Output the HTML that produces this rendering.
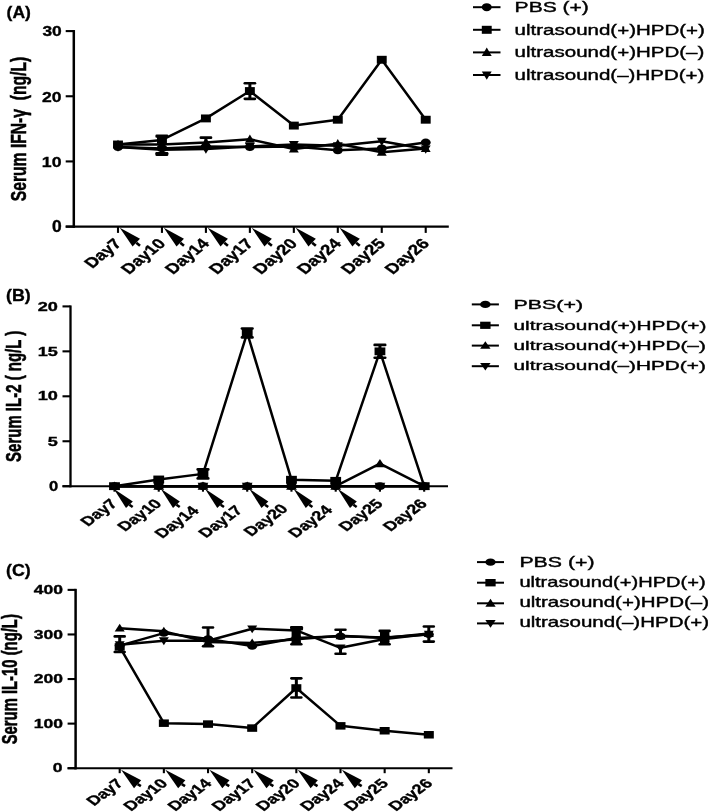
<!DOCTYPE html>
<html><head><meta charset="utf-8"><style>
html,body{margin:0;padding:0;background:#fff;}
svg{display:block;will-change:transform;}
</style></head><body>
<svg width="709" height="812" viewBox="0 0 709 812">
<rect width="709" height="812" fill="#fff"/>
<line x1="73.80" y1="30.04" x2="73.80" y2="227.85" stroke="#000" stroke-width="2.5"/>
<line x1="65.70" y1="226.60" x2="73.80" y2="226.60" stroke="#000" stroke-width="2.1"/>
<line x1="65.70" y1="161.43" x2="73.80" y2="161.43" stroke="#000" stroke-width="2.1"/>
<line x1="65.70" y1="96.26" x2="73.80" y2="96.26" stroke="#000" stroke-width="2.1"/>
<line x1="65.70" y1="31.09" x2="73.80" y2="31.09" stroke="#000" stroke-width="2.1"/>
<line x1="65.70" y1="226.60" x2="448.80" y2="226.60" stroke="#000" stroke-width="2.2"/>
<line x1="118.00" y1="226.60" x2="118.00" y2="232.90" stroke="#000" stroke-width="2.1"/>
<line x1="161.96" y1="226.60" x2="161.96" y2="232.90" stroke="#000" stroke-width="2.1"/>
<line x1="205.92" y1="226.60" x2="205.92" y2="232.90" stroke="#000" stroke-width="2.1"/>
<line x1="249.88" y1="226.60" x2="249.88" y2="232.90" stroke="#000" stroke-width="2.1"/>
<line x1="293.84" y1="226.60" x2="293.84" y2="232.90" stroke="#000" stroke-width="2.1"/>
<line x1="337.80" y1="226.60" x2="337.80" y2="232.90" stroke="#000" stroke-width="2.1"/>
<line x1="381.76" y1="226.60" x2="381.76" y2="232.90" stroke="#000" stroke-width="2.1"/>
<line x1="425.72" y1="226.60" x2="425.72" y2="232.90" stroke="#000" stroke-width="2.1"/>
<polygon points="119.80,227.80 140.00,238.80 132.60,246.50" fill="#000"/>
<line x1="136.30" y1="242.65" x2="140.00" y2="245.80" stroke="#000" stroke-width="2.6"/>
<polygon points="163.76,227.80 183.96,238.80 176.56,246.50" fill="#000"/>
<line x1="180.26" y1="242.65" x2="183.96" y2="245.80" stroke="#000" stroke-width="2.6"/>
<polygon points="207.72,227.80 227.92,238.80 220.52,246.50" fill="#000"/>
<line x1="224.22" y1="242.65" x2="227.92" y2="245.80" stroke="#000" stroke-width="2.6"/>
<polygon points="251.68,227.80 271.88,238.80 264.48,246.50" fill="#000"/>
<line x1="268.18" y1="242.65" x2="271.88" y2="245.80" stroke="#000" stroke-width="2.6"/>
<polygon points="295.64,227.80 315.84,238.80 308.44,246.50" fill="#000"/>
<line x1="312.14" y1="242.65" x2="315.84" y2="245.80" stroke="#000" stroke-width="2.6"/>
<polygon points="339.60,227.80 359.80,238.80 352.40,246.50" fill="#000"/>
<line x1="356.10" y1="242.65" x2="359.80" y2="245.80" stroke="#000" stroke-width="2.6"/>
<polyline points="118.00,147.09 161.96,148.40 205.92,146.44 249.88,147.09 293.84,146.44 337.80,150.35 381.76,148.40 425.72,142.53" fill="none" stroke="#000" stroke-width="2.5" stroke-linejoin="round"/>
<polyline points="118.00,144.49 161.96,139.92 205.92,118.42 249.88,91.05 293.84,125.59 337.80,119.72 381.76,59.76 425.72,119.72" fill="none" stroke="#000" stroke-width="2.5" stroke-linejoin="round"/>
<polyline points="118.00,144.49 161.96,144.49 205.92,142.53 249.88,139.27 293.84,149.05 337.80,143.83 381.76,152.31 425.72,148.40" fill="none" stroke="#000" stroke-width="2.5" stroke-linejoin="round"/>
<polyline points="118.00,147.09 161.96,149.70 205.92,149.05 249.88,146.44 293.84,144.49 337.80,145.79 381.76,141.23 425.72,149.05" fill="none" stroke="#000" stroke-width="2.5" stroke-linejoin="round"/>
<ellipse cx="118.00" cy="147.09" rx="4.95" ry="3.95" fill="#000"/>
<ellipse cx="161.96" cy="148.40" rx="4.95" ry="3.95" fill="#000"/>
<ellipse cx="205.92" cy="146.44" rx="4.95" ry="3.95" fill="#000"/>
<ellipse cx="249.88" cy="147.09" rx="4.95" ry="3.95" fill="#000"/>
<ellipse cx="293.84" cy="146.44" rx="4.95" ry="3.95" fill="#000"/>
<ellipse cx="337.80" cy="150.35" rx="4.95" ry="3.95" fill="#000"/>
<ellipse cx="381.76" cy="148.40" rx="4.95" ry="3.95" fill="#000"/>
<ellipse cx="425.72" cy="142.53" rx="4.95" ry="3.95" fill="#000"/>
<rect x="113.05" y="140.54" width="9.90" height="7.90" fill="#000"/>
<rect x="157.01" y="135.97" width="9.90" height="7.90" fill="#000"/>
<rect x="200.97" y="114.47" width="9.90" height="7.90" fill="#000"/>
<line x1="249.88" y1="83.23" x2="249.88" y2="91.05" stroke="#000" stroke-width="3.0"/>
<line x1="244.78" y1="83.23" x2="254.98" y2="83.23" stroke="#000" stroke-width="2.6" stroke-linecap="round"/>
<line x1="249.88" y1="91.05" x2="249.88" y2="98.87" stroke="#000" stroke-width="3.0"/>
<line x1="244.78" y1="98.87" x2="254.98" y2="98.87" stroke="#000" stroke-width="2.6" stroke-linecap="round"/>
<rect x="244.93" y="87.10" width="9.90" height="7.90" fill="#000"/>
<rect x="288.89" y="121.64" width="9.90" height="7.90" fill="#000"/>
<rect x="332.85" y="115.77" width="9.90" height="7.90" fill="#000"/>
<rect x="376.81" y="55.81" width="9.90" height="7.90" fill="#000"/>
<rect x="420.77" y="115.77" width="9.90" height="7.90" fill="#000"/>
<polygon points="118.00,139.75 122.95,148.04 113.05,148.04" fill="#000"/>
<line x1="161.96" y1="144.49" x2="161.96" y2="153.61" stroke="#000" stroke-width="3.0"/>
<line x1="156.86" y1="153.61" x2="167.06" y2="153.61" stroke="#000" stroke-width="2.6" stroke-linecap="round"/>
<polygon points="161.96,139.75 166.91,148.04 157.01,148.04" fill="#000"/>
<polygon points="205.92,137.79 210.87,146.09 200.97,146.09" fill="#000"/>
<polygon points="249.88,134.53 254.83,142.83 244.93,142.83" fill="#000"/>
<polygon points="293.84,144.31 298.79,152.60 288.89,152.60" fill="#000"/>
<polygon points="337.80,139.09 342.75,147.39 332.85,147.39" fill="#000"/>
<polygon points="381.76,147.57 386.71,155.86 376.81,155.86" fill="#000"/>
<polygon points="425.72,143.66 430.67,151.95 420.77,151.95" fill="#000"/>
<polygon points="118.00,151.83 122.95,143.54 113.05,143.54" fill="#000"/>
<polygon points="161.96,154.44 166.91,146.14 157.01,146.14" fill="#000"/>
<line x1="205.92" y1="137.64" x2="205.92" y2="149.05" stroke="#000" stroke-width="3.0"/>
<line x1="200.82" y1="137.64" x2="211.02" y2="137.64" stroke="#000" stroke-width="2.6" stroke-linecap="round"/>
<polygon points="205.92,153.79 210.87,145.49 200.97,145.49" fill="#000"/>
<polygon points="249.88,151.18 254.83,142.89 244.93,142.89" fill="#000"/>
<polygon points="293.84,149.23 298.79,140.93 288.89,140.93" fill="#000"/>
<polygon points="337.80,150.53 342.75,142.23 332.85,142.23" fill="#000"/>
<polygon points="381.76,145.97 386.71,137.67 376.81,137.67" fill="#000"/>
<polygon points="425.72,153.79 430.67,145.49 420.77,145.49" fill="#000"/>
<rect x="155.4" y="151.9" width="12.9" height="4.0" rx="1.2" fill="#000"/>
<rect x="155.4" y="134.5" width="12.9" height="3.2" rx="1.2" fill="#000"/>
<line x1="70.50" y1="305.45" x2="70.50" y2="487.35" stroke="#000" stroke-width="2.3"/>
<line x1="62.50" y1="486.20" x2="70.50" y2="486.20" stroke="#000" stroke-width="2.1"/>
<line x1="62.50" y1="441.25" x2="70.50" y2="441.25" stroke="#000" stroke-width="2.1"/>
<line x1="62.50" y1="396.30" x2="70.50" y2="396.30" stroke="#000" stroke-width="2.1"/>
<line x1="62.50" y1="351.35" x2="70.50" y2="351.35" stroke="#000" stroke-width="2.1"/>
<line x1="62.50" y1="306.40" x2="70.50" y2="306.40" stroke="#000" stroke-width="2.1"/>
<line x1="62.50" y1="486.20" x2="448.00" y2="486.20" stroke="#000" stroke-width="2.0"/>
<line x1="114.50" y1="486.20" x2="114.50" y2="491.70" stroke="#000" stroke-width="2.1"/>
<line x1="158.74" y1="486.20" x2="158.74" y2="491.70" stroke="#000" stroke-width="2.1"/>
<line x1="202.98" y1="486.20" x2="202.98" y2="491.70" stroke="#000" stroke-width="2.1"/>
<line x1="247.22" y1="486.20" x2="247.22" y2="491.70" stroke="#000" stroke-width="2.1"/>
<line x1="291.46" y1="486.20" x2="291.46" y2="491.70" stroke="#000" stroke-width="2.1"/>
<line x1="335.70" y1="486.20" x2="335.70" y2="491.70" stroke="#000" stroke-width="2.1"/>
<line x1="379.94" y1="486.20" x2="379.94" y2="491.70" stroke="#000" stroke-width="2.1"/>
<line x1="424.18" y1="486.20" x2="424.18" y2="491.70" stroke="#000" stroke-width="2.1"/>
<polygon points="113.70,488.70 132.80,501.50 126.00,508.00" fill="#000"/>
<line x1="129.40" y1="504.75" x2="132.70" y2="507.00" stroke="#000" stroke-width="2.6"/>
<polygon points="160.74,488.70 179.84,501.50 173.04,508.00" fill="#000"/>
<line x1="176.44" y1="504.75" x2="179.74" y2="507.00" stroke="#000" stroke-width="2.6"/>
<polygon points="204.98,488.70 224.08,501.50 217.28,508.00" fill="#000"/>
<line x1="220.68" y1="504.75" x2="223.98" y2="507.00" stroke="#000" stroke-width="2.6"/>
<polygon points="249.22,488.70 268.32,501.50 261.52,508.00" fill="#000"/>
<line x1="264.92" y1="504.75" x2="268.22" y2="507.00" stroke="#000" stroke-width="2.6"/>
<polygon points="293.46,488.70 312.56,501.50 305.76,508.00" fill="#000"/>
<line x1="309.16" y1="504.75" x2="312.46" y2="507.00" stroke="#000" stroke-width="2.6"/>
<polygon points="337.70,488.70 356.80,501.50 350.00,508.00" fill="#000"/>
<line x1="353.40" y1="504.75" x2="356.70" y2="507.00" stroke="#000" stroke-width="2.6"/>
<polyline points="114.50,486.20 158.74,486.20 202.98,486.20 247.22,486.20 291.46,486.20 335.70,486.20 379.94,486.20 424.18,486.20" fill="none" stroke="#000" stroke-width="2.5" stroke-linejoin="round"/>
<polyline points="114.50,486.20 158.74,479.46 202.98,473.88 247.22,332.92 291.46,479.73 335.70,480.81 379.94,351.35 424.18,486.20" fill="none" stroke="#000" stroke-width="2.5" stroke-linejoin="round"/>
<polyline points="114.50,486.20 158.74,486.20 202.98,486.20 247.22,486.20 291.46,486.20 335.70,486.20 379.94,463.72 424.18,486.20" fill="none" stroke="#000" stroke-width="2.5" stroke-linejoin="round"/>
<polyline points="114.50,486.20 158.74,486.20 202.98,486.20 247.22,486.20 291.46,486.20 335.70,486.20 379.94,486.20 424.18,486.20" fill="none" stroke="#000" stroke-width="2.5" stroke-linejoin="round"/>
<ellipse cx="114.50" cy="486.20" rx="5.40" ry="3.90" fill="#000"/>
<ellipse cx="158.74" cy="486.20" rx="5.40" ry="3.90" fill="#000"/>
<ellipse cx="202.98" cy="486.20" rx="5.40" ry="3.90" fill="#000"/>
<ellipse cx="247.22" cy="486.20" rx="5.40" ry="3.90" fill="#000"/>
<ellipse cx="291.46" cy="486.20" rx="5.40" ry="3.90" fill="#000"/>
<ellipse cx="335.70" cy="486.20" rx="5.40" ry="3.90" fill="#000"/>
<ellipse cx="379.94" cy="486.20" rx="5.40" ry="3.90" fill="#000"/>
<ellipse cx="424.18" cy="486.20" rx="5.40" ry="3.90" fill="#000"/>
<rect x="109.10" y="482.30" width="10.80" height="7.80" fill="#000"/>
<rect x="153.34" y="475.56" width="10.80" height="7.80" fill="#000"/>
<line x1="202.98" y1="469.39" x2="202.98" y2="473.88" stroke="#000" stroke-width="3.0"/>
<line x1="197.68" y1="469.39" x2="208.28" y2="469.39" stroke="#000" stroke-width="2.6" stroke-linecap="round"/>
<line x1="202.98" y1="473.88" x2="202.98" y2="478.38" stroke="#000" stroke-width="3.0"/>
<line x1="197.68" y1="478.38" x2="208.28" y2="478.38" stroke="#000" stroke-width="2.6" stroke-linecap="round"/>
<rect x="197.58" y="469.98" width="10.80" height="7.80" fill="#000"/>
<line x1="247.22" y1="328.43" x2="247.22" y2="332.92" stroke="#000" stroke-width="3.0"/>
<line x1="241.92" y1="328.43" x2="252.52" y2="328.43" stroke="#000" stroke-width="2.6" stroke-linecap="round"/>
<line x1="247.22" y1="332.92" x2="247.22" y2="337.42" stroke="#000" stroke-width="3.0"/>
<line x1="241.92" y1="337.42" x2="252.52" y2="337.42" stroke="#000" stroke-width="2.6" stroke-linecap="round"/>
<rect x="241.82" y="329.02" width="10.80" height="7.80" fill="#000"/>
<rect x="286.06" y="475.83" width="10.80" height="7.80" fill="#000"/>
<rect x="330.30" y="476.91" width="10.80" height="7.80" fill="#000"/>
<line x1="379.94" y1="344.88" x2="379.94" y2="351.35" stroke="#000" stroke-width="3.0"/>
<line x1="374.64" y1="344.88" x2="385.24" y2="344.88" stroke="#000" stroke-width="2.6" stroke-linecap="round"/>
<line x1="379.94" y1="351.35" x2="379.94" y2="357.82" stroke="#000" stroke-width="3.0"/>
<line x1="374.64" y1="357.82" x2="385.24" y2="357.82" stroke="#000" stroke-width="2.6" stroke-linecap="round"/>
<rect x="374.54" y="347.45" width="10.80" height="7.80" fill="#000"/>
<rect x="418.78" y="482.30" width="10.80" height="7.80" fill="#000"/>
<polygon points="114.50,481.52 119.90,489.71 109.10,489.71" fill="#000"/>
<polygon points="158.74,481.52 164.14,489.71 153.34,489.71" fill="#000"/>
<polygon points="202.98,481.52 208.38,489.71 197.58,489.71" fill="#000"/>
<polygon points="247.22,481.52 252.62,489.71 241.82,489.71" fill="#000"/>
<polygon points="291.46,481.52 296.86,489.71 286.06,489.71" fill="#000"/>
<polygon points="335.70,481.52 341.10,489.71 330.30,489.71" fill="#000"/>
<polygon points="379.94,459.04 385.34,467.23 374.54,467.23" fill="#000"/>
<polygon points="424.18,481.52 429.58,489.71 418.78,489.71" fill="#000"/>
<polygon points="114.50,490.88 119.90,482.69 109.10,482.69" fill="#000"/>
<polygon points="158.74,490.88 164.14,482.69 153.34,482.69" fill="#000"/>
<polygon points="202.98,490.88 208.38,482.69 197.58,482.69" fill="#000"/>
<polygon points="247.22,490.88 252.62,482.69 241.82,482.69" fill="#000"/>
<polygon points="291.46,490.88 296.86,482.69 286.06,482.69" fill="#000"/>
<polygon points="335.70,490.88 341.10,482.69 330.30,482.69" fill="#000"/>
<polygon points="379.94,490.88 385.34,482.69 374.54,482.69" fill="#000"/>
<polygon points="424.18,490.88 429.58,482.69 418.78,482.69" fill="#000"/>
<line x1="75.60" y1="588.83" x2="75.60" y2="769.45" stroke="#000" stroke-width="2.5"/>
<line x1="67.60" y1="768.20" x2="75.60" y2="768.20" stroke="#000" stroke-width="2.1"/>
<line x1="67.60" y1="723.62" x2="75.60" y2="723.62" stroke="#000" stroke-width="2.1"/>
<line x1="67.60" y1="679.04" x2="75.60" y2="679.04" stroke="#000" stroke-width="2.1"/>
<line x1="67.60" y1="634.46" x2="75.60" y2="634.46" stroke="#000" stroke-width="2.1"/>
<line x1="67.60" y1="589.88" x2="75.60" y2="589.88" stroke="#000" stroke-width="2.1"/>
<line x1="67.60" y1="768.20" x2="452.50" y2="768.20" stroke="#000" stroke-width="2.1"/>
<line x1="119.70" y1="768.20" x2="119.70" y2="773.20" stroke="#000" stroke-width="2.1"/>
<line x1="163.86" y1="768.20" x2="163.86" y2="773.20" stroke="#000" stroke-width="2.1"/>
<line x1="208.02" y1="768.20" x2="208.02" y2="773.20" stroke="#000" stroke-width="2.1"/>
<line x1="252.18" y1="768.20" x2="252.18" y2="773.20" stroke="#000" stroke-width="2.1"/>
<line x1="296.34" y1="768.20" x2="296.34" y2="773.20" stroke="#000" stroke-width="2.1"/>
<line x1="340.50" y1="768.20" x2="340.50" y2="773.20" stroke="#000" stroke-width="2.1"/>
<line x1="384.66" y1="768.20" x2="384.66" y2="773.20" stroke="#000" stroke-width="2.1"/>
<line x1="428.82" y1="768.20" x2="428.82" y2="773.20" stroke="#000" stroke-width="2.1"/>
<polygon points="121.10,769.80 141.20,780.20 134.00,788.20" fill="#000"/>
<line x1="137.60" y1="784.20" x2="140.90" y2="786.20" stroke="#000" stroke-width="2.6"/>
<polygon points="165.26,769.80 185.36,780.20 178.16,788.20" fill="#000"/>
<line x1="181.76" y1="784.20" x2="185.06" y2="786.20" stroke="#000" stroke-width="2.6"/>
<polygon points="209.42,769.80 229.52,780.20 222.32,788.20" fill="#000"/>
<line x1="225.92" y1="784.20" x2="229.22" y2="786.20" stroke="#000" stroke-width="2.6"/>
<polygon points="253.58,769.80 273.68,780.20 266.48,788.20" fill="#000"/>
<line x1="270.08" y1="784.20" x2="273.38" y2="786.20" stroke="#000" stroke-width="2.6"/>
<polygon points="297.74,769.80 317.84,780.20 310.64,788.20" fill="#000"/>
<line x1="314.24" y1="784.20" x2="317.54" y2="786.20" stroke="#000" stroke-width="2.6"/>
<polygon points="341.90,769.80 362.00,780.20 354.80,788.20" fill="#000"/>
<line x1="358.40" y1="784.20" x2="361.70" y2="786.20" stroke="#000" stroke-width="2.6"/>
<polyline points="119.70,645.61 163.86,633.12 208.02,638.92 252.18,646.05 296.34,638.03 340.50,636.24 384.66,637.58 428.82,634.46" fill="none" stroke="#000" stroke-width="2.5" stroke-linejoin="round"/>
<polyline points="119.70,646.94 163.86,723.17 208.02,724.07 252.18,728.08 296.34,687.96 340.50,725.85 384.66,730.75 428.82,734.77" fill="none" stroke="#000" stroke-width="2.5" stroke-linejoin="round"/>
<polyline points="119.70,628.22 163.86,631.34 208.02,642.04 252.18,642.93 296.34,639.36 340.50,635.80 384.66,638.03 428.82,633.57" fill="none" stroke="#000" stroke-width="2.5" stroke-linejoin="round"/>
<polyline points="119.70,644.71 163.86,640.70 208.02,640.70 252.18,628.80 296.34,630.45 340.50,647.83 384.66,638.92 428.82,634.01" fill="none" stroke="#000" stroke-width="2.5" stroke-linejoin="round"/>
<ellipse cx="119.70" cy="645.61" rx="5.00" ry="3.75" fill="#000"/>
<ellipse cx="163.86" cy="633.12" rx="5.00" ry="3.75" fill="#000"/>
<ellipse cx="208.02" cy="638.92" rx="5.00" ry="3.75" fill="#000"/>
<ellipse cx="252.18" cy="646.05" rx="5.00" ry="3.75" fill="#000"/>
<line x1="296.34" y1="627.33" x2="296.34" y2="638.03" stroke="#000" stroke-width="3.0"/>
<line x1="291.39" y1="627.33" x2="301.29" y2="627.33" stroke="#000" stroke-width="2.6" stroke-linecap="round"/>
<line x1="296.34" y1="638.03" x2="296.34" y2="644.27" stroke="#000" stroke-width="3.0"/>
<line x1="291.39" y1="644.27" x2="301.29" y2="644.27" stroke="#000" stroke-width="2.6" stroke-linecap="round"/>
<ellipse cx="296.34" cy="638.03" rx="5.00" ry="3.75" fill="#000"/>
<line x1="340.50" y1="629.69" x2="340.50" y2="636.24" stroke="#000" stroke-width="3.0"/>
<line x1="335.55" y1="629.69" x2="345.45" y2="629.69" stroke="#000" stroke-width="2.6" stroke-linecap="round"/>
<ellipse cx="340.50" cy="636.24" rx="5.00" ry="3.75" fill="#000"/>
<line x1="384.66" y1="630.89" x2="384.66" y2="637.58" stroke="#000" stroke-width="3.0"/>
<line x1="379.71" y1="630.89" x2="389.61" y2="630.89" stroke="#000" stroke-width="2.6" stroke-linecap="round"/>
<line x1="384.66" y1="637.58" x2="384.66" y2="644.27" stroke="#000" stroke-width="3.0"/>
<line x1="379.71" y1="644.27" x2="389.61" y2="644.27" stroke="#000" stroke-width="2.6" stroke-linecap="round"/>
<ellipse cx="384.66" cy="637.58" rx="5.00" ry="3.75" fill="#000"/>
<line x1="428.82" y1="626.44" x2="428.82" y2="634.46" stroke="#000" stroke-width="3.0"/>
<line x1="423.87" y1="626.44" x2="433.77" y2="626.44" stroke="#000" stroke-width="2.6" stroke-linecap="round"/>
<line x1="428.82" y1="634.46" x2="428.82" y2="641.59" stroke="#000" stroke-width="3.0"/>
<line x1="423.87" y1="641.59" x2="433.77" y2="641.59" stroke="#000" stroke-width="2.6" stroke-linecap="round"/>
<ellipse cx="428.82" cy="634.46" rx="5.00" ry="3.75" fill="#000"/>
<rect x="114.70" y="643.19" width="10.00" height="7.50" fill="#000"/>
<rect x="158.86" y="719.42" width="10.00" height="7.50" fill="#000"/>
<rect x="203.02" y="720.32" width="10.00" height="7.50" fill="#000"/>
<rect x="247.18" y="724.33" width="10.00" height="7.50" fill="#000"/>
<line x1="296.34" y1="678.37" x2="296.34" y2="687.96" stroke="#000" stroke-width="3.0"/>
<line x1="291.39" y1="678.37" x2="301.29" y2="678.37" stroke="#000" stroke-width="2.6" stroke-linecap="round"/>
<line x1="296.34" y1="687.96" x2="296.34" y2="697.54" stroke="#000" stroke-width="3.0"/>
<line x1="291.39" y1="697.54" x2="301.29" y2="697.54" stroke="#000" stroke-width="2.6" stroke-linecap="round"/>
<rect x="291.34" y="684.21" width="10.00" height="7.50" fill="#000"/>
<rect x="335.50" y="722.10" width="10.00" height="7.50" fill="#000"/>
<rect x="379.66" y="727.00" width="10.00" height="7.50" fill="#000"/>
<rect x="423.82" y="731.02" width="10.00" height="7.50" fill="#000"/>
<polygon points="119.70,623.72 124.70,631.59 114.70,631.59" fill="#000"/>
<polygon points="163.86,626.84 168.86,634.71 158.86,634.71" fill="#000"/>
<polygon points="208.02,637.54 213.02,645.41 203.02,645.41" fill="#000"/>
<polygon points="252.18,638.43 257.18,646.31 247.18,646.31" fill="#000"/>
<polygon points="296.34,634.86 301.34,642.74 291.34,642.74" fill="#000"/>
<polygon points="340.50,631.30 345.50,639.17 335.50,639.17" fill="#000"/>
<polygon points="384.66,633.53 389.66,641.40 379.66,641.40" fill="#000"/>
<polygon points="428.82,629.07 433.82,636.94 423.82,636.94" fill="#000"/>
<line x1="119.70" y1="636.42" x2="119.70" y2="644.71" stroke="#000" stroke-width="3.0"/>
<line x1="114.75" y1="636.42" x2="124.65" y2="636.42" stroke="#000" stroke-width="2.6" stroke-linecap="round"/>
<line x1="119.70" y1="644.71" x2="119.70" y2="652.02" stroke="#000" stroke-width="3.0"/>
<line x1="114.75" y1="652.02" x2="124.65" y2="652.02" stroke="#000" stroke-width="2.6" stroke-linecap="round"/>
<polygon points="119.70,649.21 124.70,641.34 114.70,641.34" fill="#000"/>
<polygon points="163.86,645.20 168.86,637.33 158.86,637.33" fill="#000"/>
<line x1="208.02" y1="627.51" x2="208.02" y2="640.70" stroke="#000" stroke-width="3.0"/>
<line x1="203.07" y1="627.51" x2="212.97" y2="627.51" stroke="#000" stroke-width="2.6" stroke-linecap="round"/>
<line x1="208.02" y1="640.70" x2="208.02" y2="646.18" stroke="#000" stroke-width="3.0"/>
<line x1="203.07" y1="646.18" x2="212.97" y2="646.18" stroke="#000" stroke-width="2.6" stroke-linecap="round"/>
<polygon points="208.02,645.20 213.02,637.33 203.02,637.33" fill="#000"/>
<polygon points="252.18,633.30 257.18,625.42 247.18,625.42" fill="#000"/>
<polygon points="296.34,634.95 301.34,627.07 291.34,627.07" fill="#000"/>
<line x1="340.50" y1="647.83" x2="340.50" y2="653.81" stroke="#000" stroke-width="3.0"/>
<line x1="335.55" y1="653.81" x2="345.45" y2="653.81" stroke="#000" stroke-width="2.6" stroke-linecap="round"/>
<polygon points="340.50,652.33 345.50,644.46 335.50,644.46" fill="#000"/>
<polygon points="384.66,643.42 389.66,635.54 379.66,635.54" fill="#000"/>
<polygon points="428.82,638.51 433.82,630.64 423.82,630.64" fill="#000"/>
<rect x="291.6" y="629.5" width="9.2" height="14" rx="1" fill="#000"/>
<rect x="290.2" y="626.1" width="12.9" height="4.4" rx="1.5" fill="#000"/>
<rect x="380.0" y="631.0" width="9.4" height="14" rx="1" fill="#000"/>
<text transform="translate(6.60,17.90) scale(1.030,1)" font-family='"Liberation Sans", sans-serif' font-size="17.0" font-weight="bold" text-anchor="start"  stroke="#000" stroke-width="0.35">(A)</text>
<text transform="translate(6.00,301.00) scale(1.060,1)" font-family='"Liberation Sans", sans-serif' font-size="16.8" font-weight="bold" text-anchor="start"  stroke="#000" stroke-width="0.35">(B)</text>
<text transform="translate(6.00,576.00) scale(1.060,1)" font-family='"Liberation Sans", sans-serif' font-size="16.8" font-weight="bold" text-anchor="start"  stroke="#000" stroke-width="0.35">(C)</text>
<text transform="translate(61.80,36.00) scale(1.160,1)" font-family='"Liberation Sans", sans-serif' font-size="15.0" font-weight="bold" text-anchor="end"  stroke="#000" stroke-width="0.35">30</text>
<text transform="translate(61.40,101.80) scale(1.170,1)" font-family='"Liberation Sans", sans-serif' font-size="15.0" font-weight="bold" text-anchor="end"  stroke="#000" stroke-width="0.35">20</text>
<text transform="translate(61.50,166.80) scale(1.180,1)" font-family='"Liberation Sans", sans-serif' font-size="15.0" font-weight="bold" text-anchor="end"  stroke="#000" stroke-width="0.35">10</text>
<text transform="translate(61.60,231.90) scale(1.120,1)" font-family='"Liberation Sans", sans-serif' font-size="15.6" font-weight="bold" text-anchor="end"  stroke="#000" stroke-width="0.35">0</text>
<text transform="translate(57.90,311.00) scale(1.450,1)" font-family='"Liberation Sans", sans-serif' font-size="12.5" font-weight="bold" text-anchor="end"  stroke="#000" stroke-width="0.35">20</text>
<text transform="translate(57.90,356.30) scale(1.450,1)" font-family='"Liberation Sans", sans-serif' font-size="12.5" font-weight="bold" text-anchor="end"  stroke="#000" stroke-width="0.35">15</text>
<text transform="translate(57.90,400.00) scale(1.450,1)" font-family='"Liberation Sans", sans-serif' font-size="12.5" font-weight="bold" text-anchor="end"  stroke="#000" stroke-width="0.35">10</text>
<text transform="translate(57.90,445.80) scale(1.450,1)" font-family='"Liberation Sans", sans-serif' font-size="12.5" font-weight="bold" text-anchor="end"  stroke="#000" stroke-width="0.35">5</text>
<text transform="translate(58.20,490.80) scale(1.200,1)" font-family='"Liberation Sans", sans-serif' font-size="13.8" font-weight="bold" text-anchor="end"  stroke="#000" stroke-width="0.35">0</text>
<text transform="translate(63.00,594.20) scale(1.400,1)" font-family='"Liberation Sans", sans-serif' font-size="12.5" font-weight="bold" text-anchor="end"  stroke="#000" stroke-width="0.35">400</text>
<text transform="translate(63.00,638.50) scale(1.400,1)" font-family='"Liberation Sans", sans-serif' font-size="12.5" font-weight="bold" text-anchor="end"  stroke="#000" stroke-width="0.35">300</text>
<text transform="translate(63.00,682.80) scale(1.400,1)" font-family='"Liberation Sans", sans-serif' font-size="12.5" font-weight="bold" text-anchor="end"  stroke="#000" stroke-width="0.35">200</text>
<text transform="translate(63.00,727.60) scale(1.400,1)" font-family='"Liberation Sans", sans-serif' font-size="12.5" font-weight="bold" text-anchor="end"  stroke="#000" stroke-width="0.35">100</text>
<text transform="translate(62.60,772.20) scale(1.400,1)" font-family='"Liberation Sans", sans-serif' font-size="12.5" font-weight="bold" text-anchor="end"  stroke="#000" stroke-width="0.35">0</text>
<text transform="translate(25.80,129.00) rotate(-90) scale(1.119,1.580)" font-family='"Liberation Sans", sans-serif' font-size="14.0" font-weight="bold" text-anchor="middle" stroke="#000" stroke-width="0.35">Serum IFN-γ  (ng/L)</text>
<text transform="translate(21.30,396.30) rotate(-90) scale(1.110,1.600)" font-family='"Liberation Sans", sans-serif' font-size="13.5" font-weight="bold" text-anchor="middle" stroke="#000" stroke-width="0.35">Serum IL-2 ( ng/L )</text>
<text transform="translate(16.80,679.25) rotate(-90) scale(1.099,1.580)" font-family='"Liberation Sans", sans-serif' font-size="13.5" font-weight="bold" text-anchor="middle" stroke="#000" stroke-width="0.35">Serum IL-10 (ng/L)</text>
<text transform="translate(122.50,244.10) scale(1.300,1) rotate(-47)" font-family='"Liberation Sans", sans-serif' font-size="14.3" font-weight="bold" text-anchor="end"  stroke="#000" stroke-width="0.35">Day7</text>
<text transform="translate(166.46,244.10) scale(1.300,1) rotate(-47)" font-family='"Liberation Sans", sans-serif' font-size="14.3" font-weight="bold" text-anchor="end"  stroke="#000" stroke-width="0.35">Day10</text>
<text transform="translate(210.42,244.10) scale(1.300,1) rotate(-47)" font-family='"Liberation Sans", sans-serif' font-size="14.3" font-weight="bold" text-anchor="end"  stroke="#000" stroke-width="0.35">Day14</text>
<text transform="translate(254.38,244.10) scale(1.300,1) rotate(-47)" font-family='"Liberation Sans", sans-serif' font-size="14.3" font-weight="bold" text-anchor="end"  stroke="#000" stroke-width="0.35">Day17</text>
<text transform="translate(298.34,244.10) scale(1.300,1) rotate(-47)" font-family='"Liberation Sans", sans-serif' font-size="14.3" font-weight="bold" text-anchor="end"  stroke="#000" stroke-width="0.35">Day20</text>
<text transform="translate(342.30,244.10) scale(1.300,1) rotate(-47)" font-family='"Liberation Sans", sans-serif' font-size="14.3" font-weight="bold" text-anchor="end"  stroke="#000" stroke-width="0.35">Day24</text>
<text transform="translate(386.26,244.10) scale(1.300,1) rotate(-47)" font-family='"Liberation Sans", sans-serif' font-size="14.3" font-weight="bold" text-anchor="end"  stroke="#000" stroke-width="0.35">Day25</text>
<text transform="translate(430.22,244.10) scale(1.300,1) rotate(-47)" font-family='"Liberation Sans", sans-serif' font-size="14.3" font-weight="bold" text-anchor="end"  stroke="#000" stroke-width="0.35">Day26</text>
<text transform="translate(118.40,504.40) scale(1.380,1) rotate(-45.5)" font-family='"Liberation Sans", sans-serif' font-size="13.2" font-weight="bold" text-anchor="end"  stroke="#000" stroke-width="0.35">Day7</text>
<text transform="translate(162.64,504.40) scale(1.380,1) rotate(-45.5)" font-family='"Liberation Sans", sans-serif' font-size="13.2" font-weight="bold" text-anchor="end"  stroke="#000" stroke-width="0.35">Day10</text>
<text transform="translate(199.88,511.40) scale(1.380,1) rotate(-45.5)" font-family='"Liberation Sans", sans-serif' font-size="13.2" font-weight="bold" text-anchor="end"  stroke="#000" stroke-width="0.35">Day14</text>
<text transform="translate(243.62,510.90) scale(1.380,1) rotate(-45.5)" font-family='"Liberation Sans", sans-serif' font-size="13.2" font-weight="bold" text-anchor="end"  stroke="#000" stroke-width="0.35">Day17</text>
<text transform="translate(288.96,509.40) scale(1.380,1) rotate(-45.5)" font-family='"Liberation Sans", sans-serif' font-size="13.2" font-weight="bold" text-anchor="end"  stroke="#000" stroke-width="0.35">Day20</text>
<text transform="translate(333.30,510.70) scale(1.380,1) rotate(-45.5)" font-family='"Liberation Sans", sans-serif' font-size="13.2" font-weight="bold" text-anchor="end"  stroke="#000" stroke-width="0.35">Day24</text>
<text transform="translate(383.84,504.40) scale(1.380,1) rotate(-45.5)" font-family='"Liberation Sans", sans-serif' font-size="13.2" font-weight="bold" text-anchor="end"  stroke="#000" stroke-width="0.35">Day25</text>
<text transform="translate(428.08,504.40) scale(1.380,1) rotate(-45.5)" font-family='"Liberation Sans", sans-serif' font-size="13.2" font-weight="bold" text-anchor="end"  stroke="#000" stroke-width="0.35">Day26</text>
<text transform="translate(124.40,784.20) scale(1.400,1) rotate(-45.5)" font-family='"Liberation Sans", sans-serif' font-size="13.0" font-weight="bold" text-anchor="end"  stroke="#000" stroke-width="0.35">Day7</text>
<text transform="translate(168.56,784.20) scale(1.400,1) rotate(-45.5)" font-family='"Liberation Sans", sans-serif' font-size="13.0" font-weight="bold" text-anchor="end"  stroke="#000" stroke-width="0.35">Day10</text>
<text transform="translate(212.72,784.20) scale(1.400,1) rotate(-45.5)" font-family='"Liberation Sans", sans-serif' font-size="13.0" font-weight="bold" text-anchor="end"  stroke="#000" stroke-width="0.35">Day14</text>
<text transform="translate(256.88,784.20) scale(1.400,1) rotate(-45.5)" font-family='"Liberation Sans", sans-serif' font-size="13.0" font-weight="bold" text-anchor="end"  stroke="#000" stroke-width="0.35">Day17</text>
<text transform="translate(301.04,784.20) scale(1.400,1) rotate(-45.5)" font-family='"Liberation Sans", sans-serif' font-size="13.0" font-weight="bold" text-anchor="end"  stroke="#000" stroke-width="0.35">Day20</text>
<text transform="translate(345.20,784.20) scale(1.400,1) rotate(-45.5)" font-family='"Liberation Sans", sans-serif' font-size="13.0" font-weight="bold" text-anchor="end"  stroke="#000" stroke-width="0.35">Day24</text>
<text transform="translate(389.36,784.20) scale(1.400,1) rotate(-45.5)" font-family='"Liberation Sans", sans-serif' font-size="13.0" font-weight="bold" text-anchor="end"  stroke="#000" stroke-width="0.35">Day25</text>
<text transform="translate(433.52,784.20) scale(1.400,1) rotate(-45.5)" font-family='"Liberation Sans", sans-serif' font-size="13.0" font-weight="bold" text-anchor="end"  stroke="#000" stroke-width="0.35">Day26</text>
<line x1="473.00" y1="7.20" x2="500.50" y2="7.20" stroke="#000" stroke-width="2.0"/>
<ellipse cx="486.75" cy="7.20" rx="4.95" ry="4.00" fill="#000"/>
<text transform="translate(514.60,12.40) scale(1.472,1)" font-family='"Liberation Sans", sans-serif' font-size="14.3" font-weight="normal" text-anchor="start"  stroke="#000" stroke-width="0.38">PBS (+)</text>
<line x1="473.00" y1="29.80" x2="500.50" y2="29.80" stroke="#000" stroke-width="2.0"/>
<rect x="481.80" y="25.80" width="9.90" height="8.00" fill="#000"/>
<text transform="translate(514.60,34.60) scale(1.435,1)" font-family='"Liberation Sans", sans-serif' font-size="14.3" font-weight="normal" text-anchor="start"  stroke="#000" stroke-width="0.38">ultrasound(+)HPD(+)</text>
<line x1="473.00" y1="52.40" x2="500.50" y2="52.40" stroke="#000" stroke-width="2.0"/>
<polygon points="486.75,47.60 491.70,56.00 481.80,56.00" fill="#000"/>
<text transform="translate(514.60,57.10) scale(1.435,1)" font-family='"Liberation Sans", sans-serif' font-size="14.3" font-weight="normal" text-anchor="start"  stroke="#000" stroke-width="0.38">ultrasound(+)HPD(–)</text>
<line x1="473.00" y1="75.00" x2="500.50" y2="75.00" stroke="#000" stroke-width="2.0"/>
<polygon points="486.75,79.80 491.70,71.40 481.80,71.40" fill="#000"/>
<text transform="translate(514.60,79.70) scale(1.435,1)" font-family='"Liberation Sans", sans-serif' font-size="14.3" font-weight="normal" text-anchor="start"  stroke="#000" stroke-width="0.38">ultrasound(–)HPD(+)</text>
<line x1="471.80" y1="304.40" x2="498.90" y2="304.40" stroke="#000" stroke-width="2.0"/>
<ellipse cx="485.35" cy="304.40" rx="5.20" ry="3.60" fill="#000"/>
<text transform="translate(513.50,309.40) scale(1.621,1)" font-family='"Liberation Sans", sans-serif' font-size="13.2" font-weight="normal" text-anchor="start"  stroke="#000" stroke-width="0.38">PBS(+)</text>
<line x1="471.80" y1="325.30" x2="498.90" y2="325.30" stroke="#000" stroke-width="2.0"/>
<rect x="480.15" y="321.70" width="10.40" height="7.20" fill="#000"/>
<text transform="translate(513.50,330.20) scale(1.575,1)" font-family='"Liberation Sans", sans-serif' font-size="13.2" font-weight="normal" text-anchor="start"  stroke="#000" stroke-width="0.38">ultrasound(+)HPD(+)</text>
<line x1="471.80" y1="345.60" x2="498.90" y2="345.60" stroke="#000" stroke-width="2.0"/>
<polygon points="485.35,341.28 490.55,348.84 480.15,348.84" fill="#000"/>
<text transform="translate(513.50,350.20) scale(1.575,1)" font-family='"Liberation Sans", sans-serif' font-size="13.2" font-weight="normal" text-anchor="start"  stroke="#000" stroke-width="0.38">ultrasound(+)HPD(–)</text>
<line x1="471.80" y1="366.20" x2="498.90" y2="366.20" stroke="#000" stroke-width="2.0"/>
<polygon points="485.35,370.52 490.55,362.96 480.15,362.96" fill="#000"/>
<text transform="translate(513.50,370.10) scale(1.575,1)" font-family='"Liberation Sans", sans-serif' font-size="13.2" font-weight="normal" text-anchor="start"  stroke="#000" stroke-width="0.38">ultrasound(–)HPD(+)</text>
<line x1="477.00" y1="562.10" x2="504.00" y2="562.10" stroke="#000" stroke-width="2.0"/>
<ellipse cx="490.50" cy="562.10" rx="5.15" ry="3.70" fill="#000"/>
<text transform="translate(519.40,566.80) scale(1.522,1)" font-family='"Liberation Sans", sans-serif' font-size="14.0" font-weight="normal" text-anchor="start"  stroke="#000" stroke-width="0.38">PBS (+)</text>
<line x1="477.00" y1="582.70" x2="504.00" y2="582.70" stroke="#000" stroke-width="2.0"/>
<rect x="485.35" y="579.00" width="10.30" height="7.40" fill="#000"/>
<text transform="translate(519.40,586.80) scale(1.434,1)" font-family='"Liberation Sans", sans-serif' font-size="14.0" font-weight="normal" text-anchor="start"  stroke="#000" stroke-width="0.38">ultrasound(+)HPD(+)</text>
<line x1="477.00" y1="603.30" x2="504.00" y2="603.30" stroke="#000" stroke-width="2.0"/>
<polygon points="490.50,598.86 495.65,606.63 485.35,606.63" fill="#000"/>
<text transform="translate(519.40,607.30) scale(1.465,1)" font-family='"Liberation Sans", sans-serif' font-size="14.0" font-weight="normal" text-anchor="start"  stroke="#000" stroke-width="0.38">ultrasound(+)HPD(–)</text>
<line x1="477.00" y1="623.40" x2="504.00" y2="623.40" stroke="#000" stroke-width="2.0"/>
<polygon points="490.50,627.84 495.65,620.07 485.35,620.07" fill="#000"/>
<text transform="translate(519.40,627.20) scale(1.465,1)" font-family='"Liberation Sans", sans-serif' font-size="14.0" font-weight="normal" text-anchor="start"  stroke="#000" stroke-width="0.38">ultrasound(–)HPD(+)</text>
</svg>
</body></html>
